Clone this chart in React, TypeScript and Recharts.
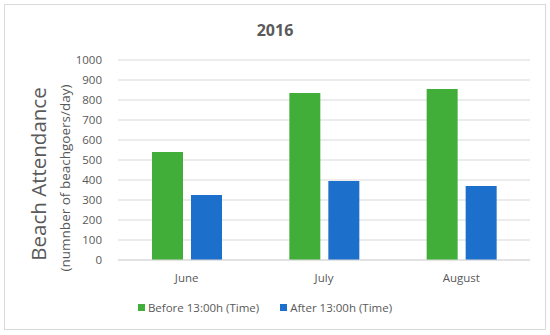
import React from 'react';
import { BarChart, Bar, XAxis, YAxis, CartesianGrid, Legend } from 'recharts';

const months = ['June', 'July', 'August'];
const beforeValues = [540, 835, 855];
const afterValues = [325, 395, 370];
const yTicks = [0, 100, 200, 300, 400, 500, 600, 700, 800, 900, 1000];
const seriesNames = ['Before 13:00h (Time)', 'After 13:00h (Time)'];
const colors = ['#42AE3A', '#1C6FCB'];

const data = months.map((m, i) => ({ month: m, before: beforeValues[i], after: afterValues[i] }));

const FONT = '"Open Sans", "Noto Sans", sans-serif';

const LegendContent = (props: any) => {
  const payload = [...(props.payload || [])].sort(
    (a: any, b: any) => seriesNames.indexOf(a.value) - seriesNames.indexOf(b.value)
  );
  return (
    <div style={{ display: 'flex', justifyContent: 'center', alignItems: 'center', height: 20, fontFamily: FONT, fontSize: 11.5, color: '#595959' }}>
      {payload.map((p: any, i: number) => (
        <div key={i} style={{ display: 'flex', alignItems: 'center', marginLeft: i === 0 ? 0 : 21 }}>
          <span style={{ display: 'inline-block', width: 7, height: 7, background: p.color, marginRight: 3 }} />
          <span>{p.value}</span>
        </div>
      ))}
    </div>
  );
};

export default function App() {
  return (
    <div style={{ position: 'absolute', left: 0, top: 0, width: 550, height: 335, background: '#fff', fontFamily: FONT }}>
      <div style={{ position: 'absolute', left: 4, top: 4, width: 540, height: 324, border: '1px solid #d9d9d9' }} />
      <div style={{ position: 'absolute', left: 0, width: 550, top: 19, textAlign: 'center', fontWeight: 700, fontSize: 16, color: '#595959' }}>2016</div>
      <div style={{ position: 'absolute', left: 38, top: 174, transform: 'translate(-50%, -50%) rotate(-90deg)', whiteSpace: 'nowrap', fontSize: 20.5, color: '#595959' }}>Beach Attendance</div>
      <div style={{ position: 'absolute', left: 65, top: 178, transform: 'translate(-50%, -50%) rotate(-90deg)', whiteSpace: 'nowrap', fontSize: 13.5, color: '#595959' }}>(numnber of beachgoers/day)</div>
      <div style={{ position: 'absolute', left: 0, top: 0 }}>
        <BarChart width={550} height={335} data={data} margin={{ top: 60, right: 20, bottom: 25, left: 0 }} barSize={31} barGap={8}>
          <CartesianGrid vertical={false} stroke="#d9d9d9" />
          <XAxis dataKey="month" axisLine={{ stroke: '#d9d9d9' }} tickLine={false} height={30} tick={{ fill: '#595959', fontSize: 11.5, fontFamily: FONT }} tickMargin={8} />
          <YAxis width={118} domain={[0, 1000]} ticks={yTicks} axisLine={false} tickLine={false} tick={{ fill: '#595959', fontSize: 11.5, fontFamily: FONT }} tickMargin={10} interval={0} />
          <Legend verticalAlign="bottom" content={<LegendContent />} wrapperStyle={{ height: 20, top: 297 }} />
          <Bar dataKey="before" name={seriesNames[0]} fill={colors[0]} isAnimationActive={false} />
          <Bar dataKey="after" name={seriesNames[1]} fill={colors[1]} isAnimationActive={false} />
        </BarChart>
      </div>
    </div>
  );
}
